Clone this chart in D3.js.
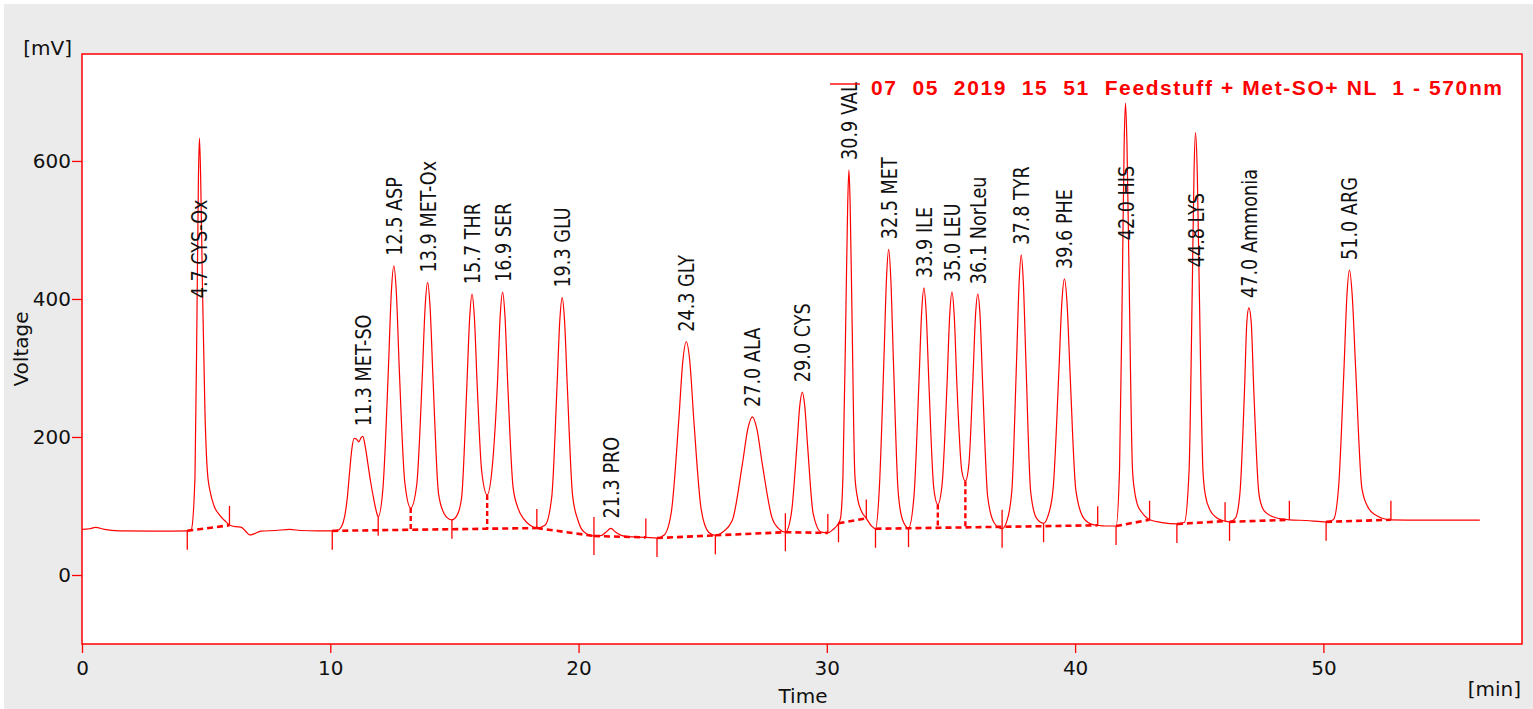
<!DOCTYPE html>
<html>
<head>
<meta charset="utf-8">
<script src="https://cdn.jsdelivr.net/npm/d3@7"></script>
<style>
  body { margin: 0; background: #fff; }
  svg { display: block; }
</style>
</head>
<body>
<script>
// detector trace, [time (min), signal (mV)]
var trace = [
  [0,66],[0.3,67],[0.55,69],[0.9,66],[1.5,64],[3,63.5],[4.24,64],[4.4,66],
  [4.55,141],[4.64,409],[4.69,576],[4.73,633],[4.78,576],[4.85,420],[4.95,240],[5.05,150],
  [5.18,118],[5.32,100],[5.56,86],[5.8,77],[5.96,72],[6.2,70],[6.4,69.5],[6.6,63],
  [6.76,58],[6.95,60],[7.2,63.5],[7.8,64.5],[8.37,66],[8.8,64.5],[9.5,64],[10.08,64],
  [10.3,65],[10.45,70],[10.58,85],[10.68,110],[10.78,150],[10.87,183],[10.96,198],[11.05,197],
  [11.15,193],[11.24,199],[11.31,201],[11.4,188],[11.52,160],[11.63,134],[11.74,112],[11.85,93],[11.93,84.5],
  [12.12,125],[12.34,298],[12.46,410],[12.56,448],[12.66,410],[12.78,298],[13.0,135],[13.24,97],
  [13.48,130],[13.7,283],[13.82,388],[13.92,424],[14.02,388],[14.14,283],[14.36,118],[14.6,88],
  [14.75,82],[14.9,80],[15.1,86],
  [15.29,112],[15.5,273],[15.615,373],[15.71,407],[15.805,373],[15.92,273],[16.1,150],[16.32,116],
  [16.52,155],[16.73,275],[16.845,376],[16.94,410],[17.035,376],[17.15,275],[17.36,128],[17.55,98],
  [17.8,81],[18.05,72],[18.32,68],
  [18.65,72],[18.92,113],[19.13,271],[19.245,369],[19.34,402],[19.435,369],[19.55,271],[19.76,115],
  [19.97,80],[20.2,63],[20.62,56.5],
  [20.9,57],[21.1,62],[21.3,67.5],[21.5,62],[21.75,57],[22.0,55.5],[22.7,54.5],[23.16,53.5],
  [23.45,58],[23.74,92],[24.04,226],[24.2,310],[24.34,338],[24.48,310],[24.64,226],[24.94,95],
  [25.24,62],[25.51,57.5],
  [25.8,62],[26.2,80],[26.6,161],[26.82,212],[27.0,229],[27.18,212],[27.4,161],[27.8,82],
  [28.1,66],[28.33,62],
  [28.57,89],[28.79,185],[28.91,245],[29.01,265],[29.11,245],[29.23,185],[29.45,89],[29.78,62],
  [30.04,61],[30.25,66],[30.47,75],[30.55,82],
  [30.65,144],[30.77,386],[30.84,536],[30.89,587],[30.94,536],[31.01,386],[31.13,144],[31.25,109],
  [31.4,92],[31.59,82],[31.8,71],[31.96,67],
  [32.11,122],[32.3,313],[32.405,431],[32.49,472],[32.575,431],[32.68,313],[32.87,122],[33.05,80],[33.29,68],
  [33.51,114],[33.71,279],[33.82,381],[33.91,416],[34.0,381],[34.11,279],[34.31,125],[34.47,102],
  [34.64,130],[34.84,275],[34.95,377],[35.04,410],[35.13,377],[35.24,275],[35.44,150],[35.58,136],
  [35.72,160],[35.88,280],[35.99,377],[36.08,407],[36.17,377],[36.28,273],[36.48,113],[36.75,75],[37.06,67],
  [37.25,78],[37.45,121],[37.64,308],[37.745,424],[37.83,464],[37.915,424],[38.02,308],[38.21,121],
  [38.45,82],[38.73,75],
  [38.9,85],[39.11,123],[39.34,290],[39.465,394],[39.57,429],[39.675,394],[39.8,290],[40.03,123],
  [40.35,82],[40.71,73],[40.91,72],[41.2,71],[41.65,71],
  [41.79,154],[41.91,443],[41.975,623],[42.03,684],[42.09,623],[42.17,443],[42.31,154],[42.39,123],
  [42.5,103],[42.66,92],[42.85,84],[43.0,80],[43.5,76],[44.1,74],
  [44.4,76],[44.59,151],[44.72,418],[44.79,584],[44.85,641],[44.92,584],[45.0,418],[45.15,151],
  [45.25,115],[45.45,93],[45.7,83],[46.04,78],
  [46.22,77],[46.45,82],[46.64,119],[46.82,265],[46.92,368],[47.0,387],[47.09,368],[47.2,265],
  [47.4,119],[47.55,97],[47.7,90],[48.0,84],[48.63,80],
  [49.3,79],[50.11,77],[50.4,80],[50.61,126],[50.83,299],[50.95,406],[51.05,442],[51.16,406],
  [51.3,299],[51.55,126],[51.8,98],[52.1,87],[52.72,80],[54,79.5],[56.3,79.5]
];

// identified peaks
var peakNames = ["4.7 CYS-Ox","11.3 MET-SO","12.5 ASP","13.9 MET-Ox","15.7 THR","16.9 SER",
  "19.3 GLU","21.3 PRO","24.3 GLY","27.0 ALA","29.0 CYS","30.9 VAL","32.5 MET","33.9 ILE",
  "35.0 LEU","36.1 NorLeu","37.8 TYR","39.6 PHE","42.0 HIS","44.8 LYS","47.0 Ammonia","51.0 ARG"];
var peakTimes = [4.73,11.3,12.56,13.92,15.71,16.94,19.34,21.3,24.34,27.0,29.01,30.89,32.49,33.91,
  35.04,36.08,37.83,39.57,42.03,44.85,47.0,51.05];
var peakHeights = [633,201,448,424,407,410,402,67.5,338,229,265,587,472,416,410,407,464,429,684,641,387,442];

// integration baseline segments [t start, mV, t end, mV]
var baseSegs = [
  [4.24,64,5.94,72],[10.08,64,18.32,68],[18.32,68,20.62,56.5],[20.62,56.5,22.71,54.5],
  [23.16,53.5,25.51,57.5],[25.51,57.5,28.33,62],[28.33,62,30.04,61],[30.47,75,31.59,82],
  [31.96,67,40.91,72],[41.65,71,43.0,80],[44.1,74,46.04,78],[46.22,77,48.63,80],[50.11,77,52.72,80]
];
// perpendicular drops between unresolved peaks
var dropTimes = [13.24,16.32,34.47,35.58];
// peak start / end event marks
var markTimes = [4.24,5.94,10.08,11.93,14.9,18.32,20.62,22.71,23.16,25.51,28.33,30.04,30.47,31.59,
  31.96,33.29,37.06,38.73,40.91,41.65,43.0,44.1,46.04,46.22,48.63,50.11,52.72];
var markKinds = ["d","u","d","d","d","u","b","u","d","d","b","u","d","u",
  "d","d","b","d","u","d","u","d","u","d","u","d","u"];

var xTicks = [0,10,20,30,40,50];
var yTicks = [0,200,400,600];
var title = "07  05  2019  15  51  Feedstuff + Met-SO+ NL  1 - 570nm";

// labels that sit lower than the peak top (bottom end, mV)
var labelLow = { "4.7 CYS-Ox": 401, "42.0 HIS": 485, "44.8 LYS": 446 };

var W = 1533, H = 709;
var plotL = 82, plotR = 1522, plotT = 54, plotB = 644;
var RED = "#ff0000";

var svg = d3.select("body").append("svg").attr("width", W).attr("height", H);

svg.append("rect").attr("x", 4).attr("y", 4).attr("width", W - 4).attr("height", H - 4)
  .attr("fill", "#ebebeb");
svg.append("rect").attr("x", plotL).attr("y", plotT).attr("width", plotR - plotL)
  .attr("height", plotB - plotT).attr("fill", "#fff");

var x = d3.scaleLinear().domain([0, 58]).range([plotL, plotR]);
var y = d3.scaleLinear().domain([-100, 755]).range([plotB, plotT]);

// axes
var yAxis = svg.append("g").attr("transform", "translate(" + plotL + ",0)")
  .call(d3.axisLeft(y).tickValues(yTicks).tickSize(10).tickPadding(1));
var xAxis = svg.append("g").attr("transform", "translate(0," + plotB + ")")
  .call(d3.axisBottom(x).tickValues(xTicks).tickSize(9).tickPadding(8));
[yAxis, xAxis].forEach(function(g) {
  g.select(".domain").remove();
  g.selectAll("line").attr("stroke", RED).attr("stroke-width", 1.3);
  g.selectAll("text").attr("font-family", "DejaVu Sans").attr("font-size", 20).attr("fill", "#111");
});

function txt(s, xx, yy, anchor) {
  return svg.append("text").attr("x", xx).attr("y", yy).attr("text-anchor", anchor || "start")
    .attr("font-family", "DejaVu Sans").attr("font-size", 20).attr("fill", "#111").text(s);
}
txt("[mV]", 72, 55, "end");
txt("Time", 803, 703, "middle");
txt("[min]", 1521, 696, "end");
txt("Voltage", 0, 0, "middle").attr("transform", "translate(28,349) rotate(-90)");

// trace value at t (linear between read points)
var bis = d3.bisector(function(d) { return d[0]; }).left;
function traceAt(t) {
  var i = bis(trace, t);
  if (i <= 0) return trace[0][1];
  if (i >= trace.length) return trace[trace.length - 1][1];
  var a = trace[i - 1], b = trace[i];
  if (b[0] === t) return b[1];
  return a[1] + (b[1] - a[1]) * (t - a[0]) / (b[0] - a[0]);
}
function baseAt(t) {
  for (var k = 0; k < baseSegs.length; k++) {
    var s = baseSegs[k];
    if (t >= s[0] && t <= s[2]) return s[1] + (s[3] - s[1]) * (t - s[0]) / (s[2] - s[0]);
  }
  return traceAt(t);
}

// integration baseline
svg.append("g").selectAll("line").data(baseSegs).enter().append("line")
  .attr("x1", function(d) { return x(d[0]); }).attr("y1", function(d) { return y(d[1]); })
  .attr("x2", function(d) { return x(d[2]); }).attr("y2", function(d) { return y(d[3]); })
  .attr("stroke", RED).attr("stroke-width", 2.6).attr("stroke-dasharray", "6,4");

svg.append("g").selectAll("line").data(dropTimes).enter().append("line")
  .attr("x1", function(d) { return x(d); }).attr("x2", function(d) { return x(d); })
  .attr("y1", function(d) { return y(traceAt(d)); }).attr("y2", function(d) { return y(baseAt(d)); })
  .attr("stroke", RED).attr("stroke-width", 2.4).attr("stroke-dasharray", "5,3");

// trace
var line = d3.line().x(function(d) { return x(d[0]); }).y(function(d) { return y(d[1]); })
  .curve(d3.curveMonotoneX);
svg.append("path").datum(trace).attr("d", line).attr("fill", "none")
  .attr("stroke", RED).attr("stroke-width", 1.2);

// event marks
svg.append("g").selectAll("line").data(markTimes).enter().append("line")
  .attr("x1", function(d) { return x(d); }).attr("x2", function(d) { return x(d); })
  .attr("y1", function(d, i) { var v = y(traceAt(d)); return markKinds[i] === "d" ? v : v - 19; })
  .attr("y2", function(d, i) { var v = y(traceAt(d)); return markKinds[i] === "u" ? v : v + 19; })
  .attr("stroke", RED).attr("stroke-width", 1.3);

// peak labels
svg.append("g").selectAll("text").data(peakNames).enter().append("text")
  .attr("transform", function(d, i) {
    var px = x(peakTimes[i]) + 8;
    var py = labelLow[d] !== undefined ? y(labelLow[d]) : y(peakHeights[i]) - 10;
    return "translate(" + px + "," + py + ") rotate(-90) scale(0.84,1)";
  })
  .attr("font-family", "DejaVu Sans").attr("font-size", 21).attr("fill", "#111")
  .text(function(d) { return d; });

// legend / title
svg.append("line").attr("x1", 830).attr("x2", 860).attr("y1", 84).attr("y2", 84)
  .attr("stroke", RED).attr("stroke-width", 1.4);
svg.append("text").attr("x", 871).attr("y", 95).attr("xml:space", "preserve")
  .style("white-space", "pre")
  .attr("textLength", 631).attr("lengthAdjust", "spacing")
  .attr("font-family", "Liberation Sans, Arial, sans-serif").attr("font-weight", "bold")
  .attr("font-size", 21).attr("fill", RED).text(title);

// frame
svg.append("rect").attr("x", plotL).attr("y", plotT).attr("width", plotR - plotL)
  .attr("height", plotB - plotT).attr("fill", "none").attr("stroke", RED).attr("stroke-width", 1.5);
</script>
</body>
</html>
